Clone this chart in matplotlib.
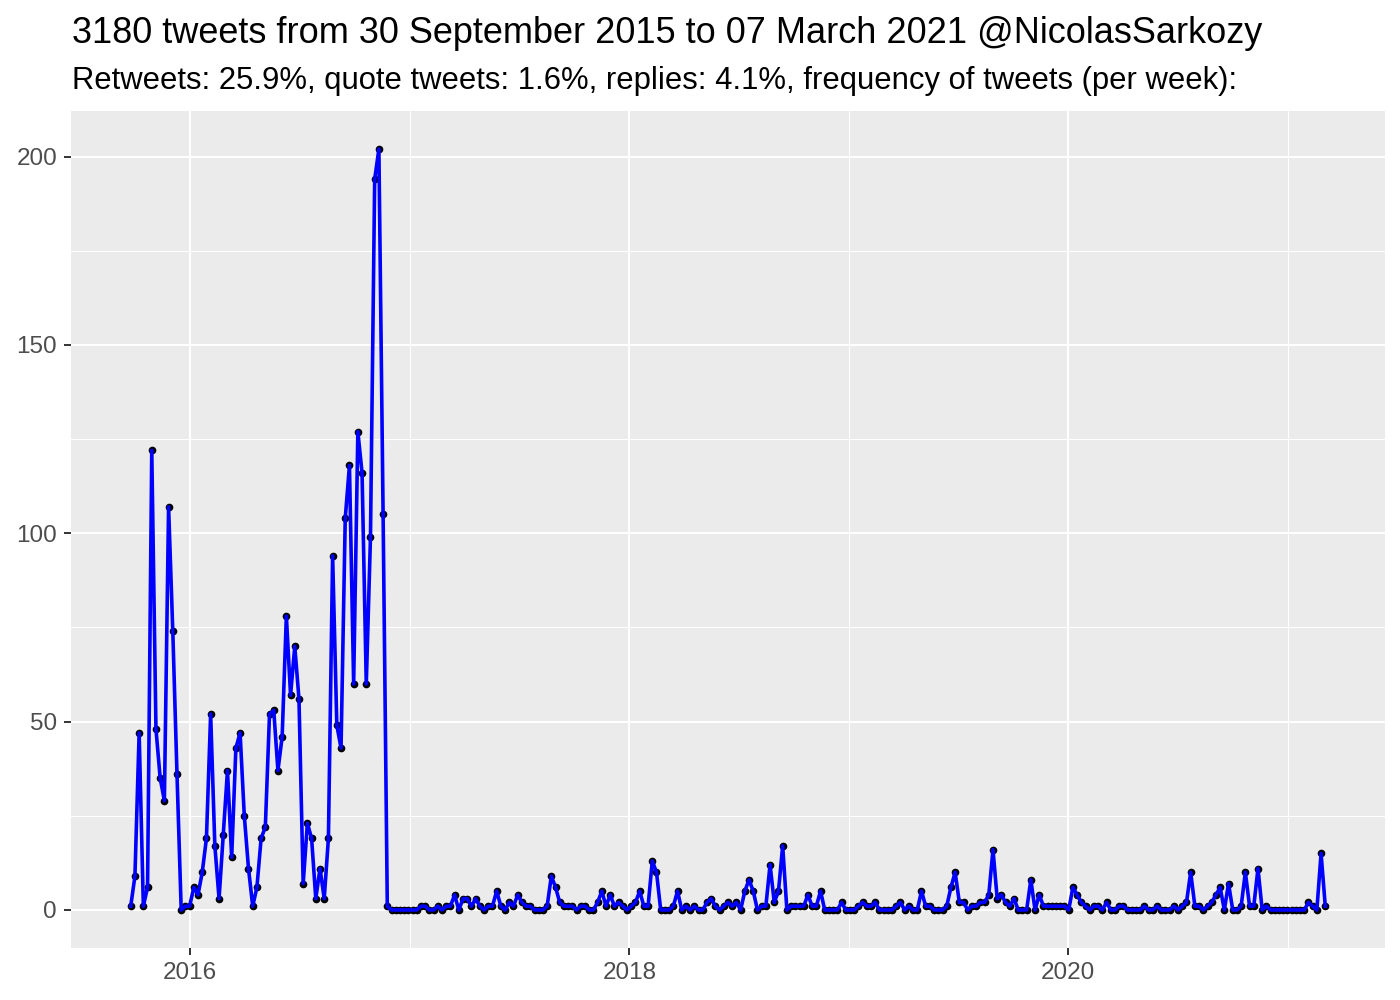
import matplotlib.pyplot as plt
import matplotlib.dates as mdates
import pandas as pd

plt.rcParams['font.family'] = ['Liberation Sans', 'DejaVu Sans']

title = '3180 tweets from 30 September 2015 to 07 March 2021 @NicolasSarkozy'
subtitle = ('Retweets: 25.9%, quote tweets: 1.6%, replies: 4.1%, '
            'frequency of tweets (per week):')

# weekly tweet counts
first_week = '2015-09-24'
counts_2015_2016 = [1, 9, 47, 1, 6, 122, 48, 35, 29, 107, 74, 36,
                    0, 1, 1, 6, 4, 10, 19, 52, 17, 3, 20, 37, 14, 43, 47, 25, 11, 1,
                    6, 19, 22, 52, 53, 37, 46, 78, 57, 70, 56, 7, 23, 19, 3, 11, 3, 19,
                    94, 49, 43, 104, 118, 60, 127, 116, 60, 99, 194, 202, 105, 1]
counts_2017_2018 = [0, 0, 0, 0, 0, 0, 0,
                    1, 1, 0, 0, 1, 0, 1, 1, 4, 0, 3, 3, 1, 3, 1, 0, 1, 1, 5, 1,
                    0, 2, 1, 4, 2, 1, 1, 0, 0, 0, 1, 9, 6, 2, 1, 1, 1, 0,
                    1, 1, 0, 0, 2, 5, 1, 4, 1, 2, 1, 0, 1, 2, 5, 1, 1, 13, 10, 0,
                    0, 0, 1, 5, 0, 1, 0, 1, 0, 0, 2, 3, 1, 0, 1, 2, 1, 2, 0, 5,
                    8, 5, 0, 1, 1, 12, 2, 5, 17, 0, 1, 1, 1, 1, 4, 1, 1, 5, 0, 0]
counts_2019_2021 = [0, 0, 2, 0, 0, 0, 1, 2, 1, 1, 2, 0, 0, 0, 0, 1, 2, 0, 1, 0,
                    0, 5, 1, 1, 0, 0, 0, 1, 6, 10, 2, 2, 0, 1, 1, 2, 2, 4, 16, 3,
                    4, 2, 1, 3, 0, 0, 0, 8, 0, 4, 1, 1, 1, 1, 1, 1, 0, 6, 4, 2,
                    1, 0, 1, 1, 0, 2, 0, 0, 1, 1, 0, 0, 0, 0, 1, 0, 0, 1, 0, 0,
                    0, 1, 0, 1, 2, 10, 1, 1, 0, 1, 2, 4, 6, 0, 7, 0, 0, 1, 10, 1,
                    1, 11, 0, 1, 0, 0, 0, 0, 0, 0, 0, 0, 0, 2, 1, 0, 15, 1]

counts = counts_2015_2016 + counts_2017_2018 + counts_2019_2021
weeks = pd.date_range(first_week, periods=len(counts), freq='7D')

y_ticks = [0, 50, 100, 150, 200]
y_minor = [25, 75, 125, 175]
x_years = [2016, 2018, 2020]
x_minor_years = [2017, 2019, 2021]

fig = plt.figure(figsize=(14, 10), dpi=100)
ax = fig.add_axes([71 / 1400, 52 / 1000, (1385 - 71) / 1400, (948 - 111) / 1000])
ax.set_facecolor('#EBEBEB')

ax.plot(weeks, counts, 'o', color='black', markersize=4.5, zorder=3)
ax.plot(weeks, counts, color='blue', linewidth=2.6, zorder=4)

# ggplot-like expansion of 5%
span = weeks[-1] - weeks[0]
ax.set_xlim(weeks[0] - span * 0.05, weeks[-1] + span * 0.05)
yr = max(counts) - min(counts)
ax.set_ylim(min(counts) - 0.05 * yr, max(counts) + 0.05 * yr)

ax.set_yticks(y_ticks)
ax.set_yticks(y_minor, minor=True)
ax.set_xticks([pd.Timestamp(f'{y}-01-01') for y in x_years])
ax.set_xticklabels([str(y) for y in x_years])
ax.set_xticks([pd.Timestamp(f'{y}-01-01') for y in x_minor_years], minor=True)

ax.grid(which='major', color='white', linewidth=1.5, zorder=0)
ax.grid(which='minor', color='white', linewidth=0.75, zorder=0)
ax.set_axisbelow(True)
for s in ax.spines.values():
    s.set_visible(False)

ax.tick_params(which='major', length=5, width=1.4, color='#333333',
               labelcolor='#4D4D4D', labelsize=17.5, pad=5)
ax.tick_params(which='minor', length=0)

fig.text(72 / 1400, 1 - 43 / 1000, title, fontsize=26, va='baseline', ha='left')
fig.text(72 / 1400, 1 - 88.5 / 1000, subtitle, fontsize=22.3, va='baseline', ha='left')

fig.savefig('out.png', dpi=100, facecolor='white')
